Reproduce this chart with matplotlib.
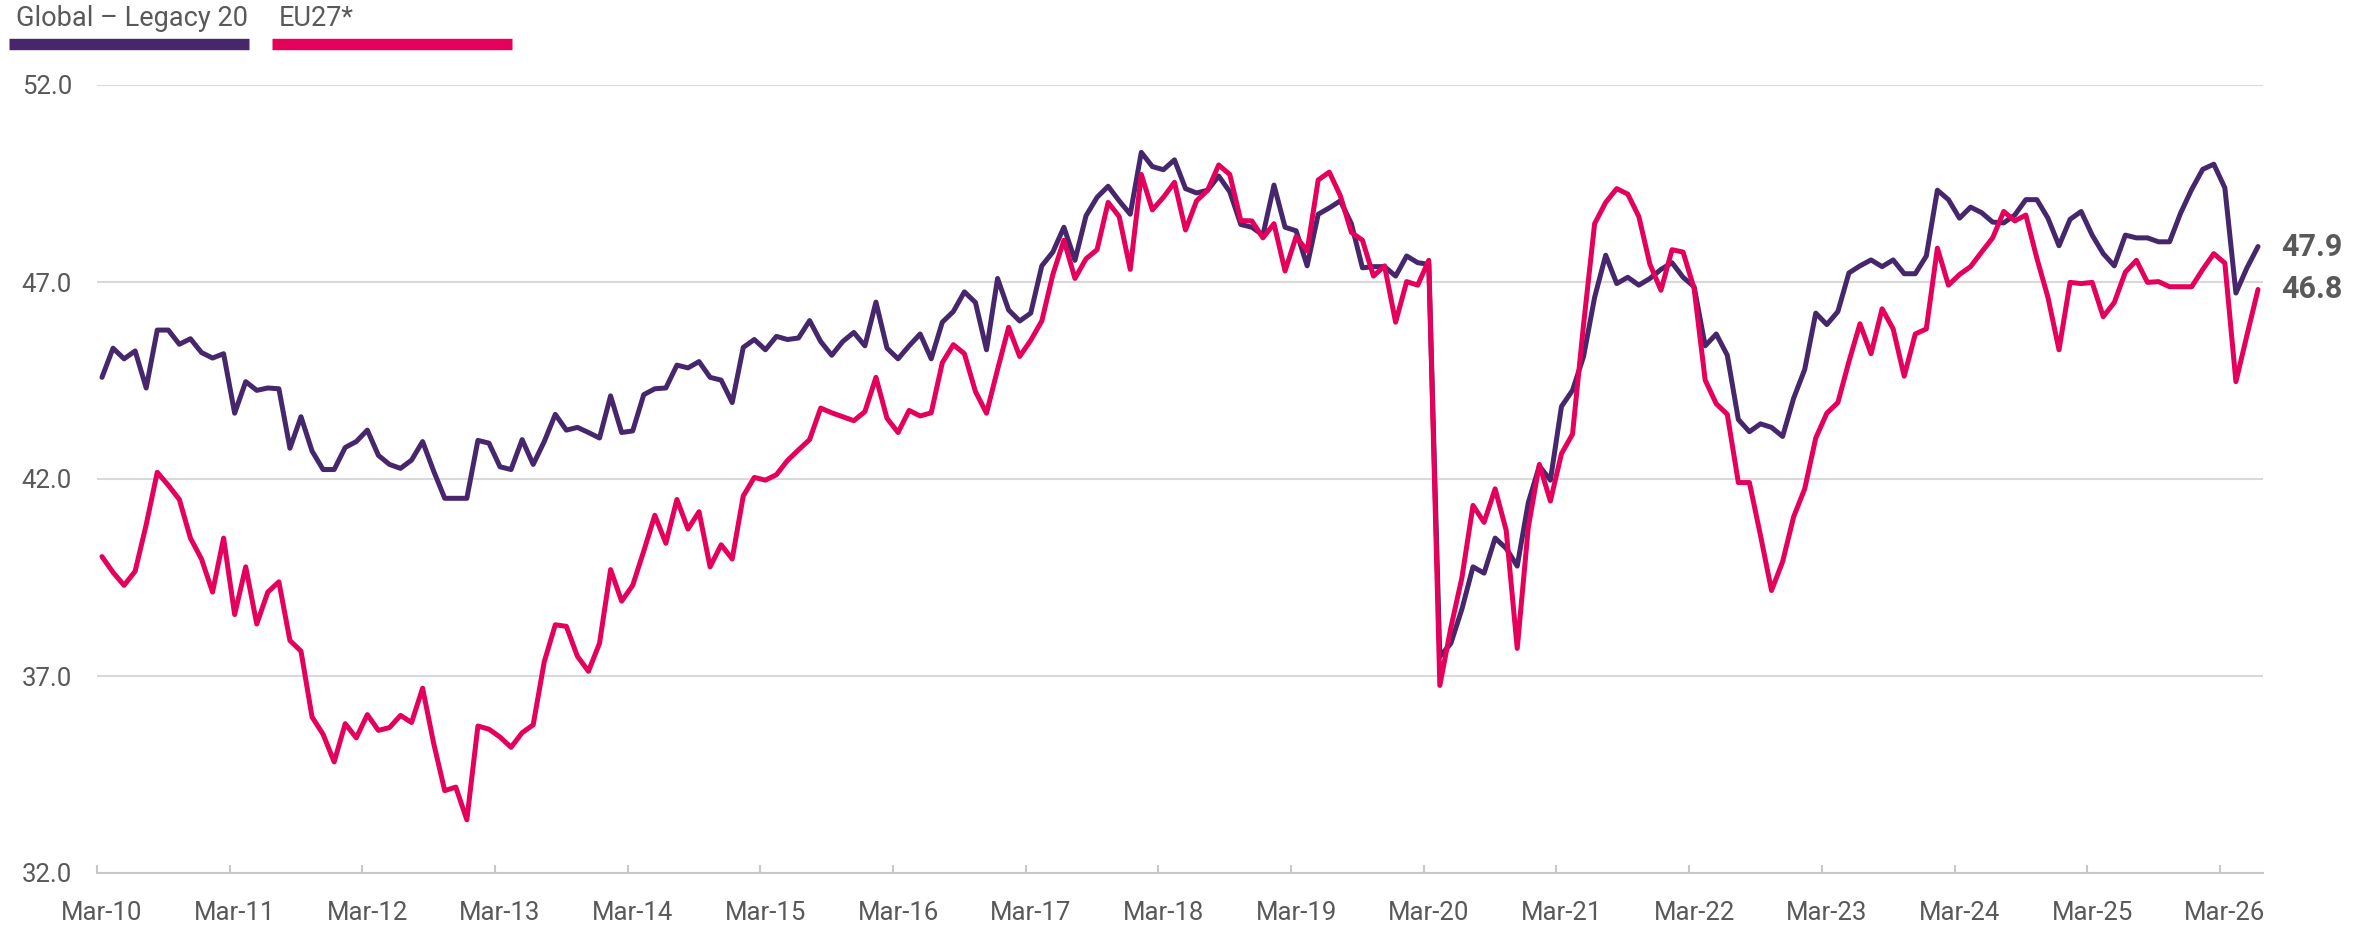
import numpy as np
import matplotlib.pyplot as plt
from matplotlib.lines import Line2D

plt.rcParams['font.family'] = ['Roboto', 'DejaVu Sans']

# monthly readings, Mar-10 .. Jun-26
global_l20 = [
    44.58, 45.32, 45.05, 45.25, 44.31, 45.78, 45.78, 45.42, 45.56, 45.21, 45.07, 45.18,
    43.67, 44.47, 44.25, 44.31, 44.29, 42.78, 43.58, 42.71, 42.24, 42.24, 42.80, 42.95,
    43.24, 42.60, 42.37, 42.27, 42.48, 42.95, 42.20, 41.51, 41.51, 41.51, 42.98, 42.91,
    42.31, 42.24, 43.00, 42.37, 42.95, 43.64, 43.24, 43.31, 43.18, 43.04, 44.11, 43.18,
    43.22, 44.14, 44.29, 44.31, 44.89, 44.82, 44.98, 44.58, 44.51, 43.94, 45.34, 45.54,
    45.28, 45.62, 45.54, 45.58, 46.02, 45.49, 45.14, 45.49, 45.72, 45.38, 46.49, 45.32,
    45.05, 45.38, 45.68, 45.05, 45.98, 46.25, 46.75, 46.48, 45.28, 47.09, 46.29, 46.01,
    46.21, 47.41, 47.76, 48.39, 47.55, 48.68, 49.15, 49.43, 49.06, 48.72, 50.29, 49.93,
    49.85, 50.10, 49.37, 49.26, 49.33, 49.69, 49.29, 48.46, 48.39, 48.19, 49.46, 48.39,
    48.30, 47.41, 48.72, 48.88, 49.06, 48.48, 47.36, 47.39, 47.39, 47.15, 47.66, 47.49,
    47.45, 37.49, 37.83, 38.70, 39.77, 39.61, 40.50, 40.24, 39.79, 41.40, 42.33, 41.97,
    43.84, 44.25, 45.11, 46.61, 47.68, 46.96, 47.12, 46.92, 47.09, 47.32, 47.49, 47.12,
    46.88, 45.38, 45.68, 45.14, 43.51, 43.20, 43.40, 43.31, 43.08, 44.05, 44.78, 46.21,
    45.92, 46.25, 47.23, 47.41, 47.56, 47.39, 47.56, 47.21, 47.21, 47.66, 49.33, 49.09,
    48.62, 48.90, 48.76, 48.52, 48.50, 48.70, 49.09, 49.09, 48.62, 47.92, 48.59, 48.79,
    48.19, 47.72, 47.41, 48.19, 48.12, 48.12, 48.02, 48.02, 48.75, 49.35, 49.86, 49.99,
    49.39, 46.72, 47.36, 47.90,
]
eu27 = [
    40.03, 39.63, 39.30, 39.66, 40.84, 42.17, 41.84, 41.48, 40.50, 39.97, 39.13, 40.50,
    38.56, 39.77, 38.32, 39.13, 39.39, 37.90, 37.63, 35.96, 35.52, 34.82, 35.79, 35.43,
    36.02, 35.62, 35.69, 36.00, 35.82, 36.69, 35.29, 34.09, 34.18, 33.35, 35.73, 35.65,
    35.45, 35.19, 35.56, 35.76, 37.36, 38.30, 38.26, 37.50, 37.12, 37.83, 39.70, 38.90,
    39.30, 40.17, 41.08, 40.37, 41.48, 40.73, 41.17, 39.77, 40.33, 39.97, 41.57, 42.04,
    41.97, 42.11, 42.47, 42.74, 43.00, 43.80, 43.68, 43.58, 43.48, 43.71, 44.58, 43.54,
    43.18, 43.74, 43.60, 43.68, 44.95, 45.41, 45.18, 44.22, 43.67, 44.78, 45.85, 45.11,
    45.52, 46.01, 47.19, 48.06, 47.09, 47.59, 47.82, 49.02, 48.66, 47.32, 49.73, 48.83,
    49.15, 49.53, 48.32, 49.06, 49.33, 49.97, 49.73, 48.56, 48.55, 48.12, 48.48, 47.28,
    48.15, 47.79, 49.59, 49.79, 49.19, 48.26, 48.06, 47.15, 47.41, 45.98, 47.01, 46.92,
    47.55, 36.76, 38.23, 39.50, 41.33, 40.90, 41.75, 40.70, 37.70, 40.77, 42.37, 41.44,
    42.64, 43.14, 45.92, 48.48, 49.02, 49.37, 49.23, 48.66, 47.45, 46.79, 47.82, 47.76,
    46.83, 44.51, 43.91, 43.64, 41.91, 41.91, 40.57, 39.17, 39.90, 41.04, 41.75, 43.04,
    43.67, 43.94, 44.98, 45.94, 45.18, 46.32, 45.81, 44.61, 45.68, 45.81, 47.86, 46.92,
    47.19, 47.39, 47.76, 48.12, 48.79, 48.55, 48.70, 47.60, 46.61, 45.28, 46.99, 46.96,
    46.99, 46.12, 46.48, 47.25, 47.55, 46.99, 47.01, 46.88, 46.88, 46.88, 47.32, 47.72,
    47.48, 44.47, 45.65, 46.81,
]
tick_labels = ['Mar-10', 'Mar-11', 'Mar-12', 'Mar-13', 'Mar-14', 'Mar-15', 'Mar-16',
               'Mar-17', 'Mar-18', 'Mar-19', 'Mar-20', 'Mar-21', 'Mar-22', 'Mar-23',
               'Mar-24', 'Mar-25', 'Mar-26']
y_ticks = [32, 37, 42, 47, 52]
series_names = ['Global \u2013 Legacy 20', 'EU27*']

PURPLE = '#47276B'
PINK = '#E4005B'
GREY = '#595959'
GRID = '#d9d9d9'

W, H = 2372, 925
fig = plt.figure(figsize=(W / 100, H / 100), dpi=100)
ax = fig.add_axes([97 / W, 1 - 873 / H, (2263 - 97) / W, (873 - 85) / H])

x = np.arange(len(global_l20))
ax.plot(x, global_l20, color=PURPLE, lw=3.6, solid_joinstyle='round', solid_capstyle='round')
ax.plot(x, eu27, color=PINK, lw=3.6, solid_joinstyle='round', solid_capstyle='round')

ax.set_xlim(-0.45, len(x) - 1 + 0.45)
ax.set_ylim(32, 52)

## y axis
ax.set_yticks(y_ticks)
ax.set_yticklabels([f'{v:.1f}' for v in y_ticks])
ax.yaxis.grid(True, color=GRID, lw=1.5)
ax.set_axisbelow(True)
ax.tick_params(axis='y', length=0, pad=18, labelsize=18.5, labelcolor=GREY)

## x axis: labels on March, tick marks at category edges
ax.set_xticks([12 * k for k in range(len(tick_labels))])
ax.set_xticklabels(tick_labels)
ax.set_xticks([12 * k - 0.45 for k in range(len(tick_labels))], minor=True)
ax.tick_params(axis='x', which='major', length=0, pad=20, labelsize=18.5, labelcolor=GREY)
ax.tick_params(axis='x', which='minor', length=6, width=1.5, direction='in', color='#c8c8c8')

for s in ['top', 'right', 'left']:
    ax.spines[s].set_visible(False)
ax.spines['bottom'].set_color('#c8c8c8')
ax.spines['bottom'].set_linewidth(1.5)

## end values
for series in (global_l20, eu27):
    ax.annotate(f'{series[-1]:.1f}', xy=(x[-1], series[-1]), xytext=(17, 0),
                textcoords='offset points', va='center', ha='left',
                fontsize=22, fontweight='bold', color=GREY)

## legend drawn by hand above the plot
for name, col, x0, x1 in [(series_names[0], PURPLE, 9, 249), (series_names[1], PINK, 272, 512)]:
    fig.text((x0 + 7) / W, 1 - 19 / H, name, fontsize=19.5, color=GREY, va='center', ha='left')
    fig.add_artist(Line2D([x0 / W, x1 / W], [1 - 44 / H] * 2, color=col, lw=8.2,
                          solid_capstyle='butt', transform=fig.transFigure))

fig.savefig('out.png', dpi=100)
